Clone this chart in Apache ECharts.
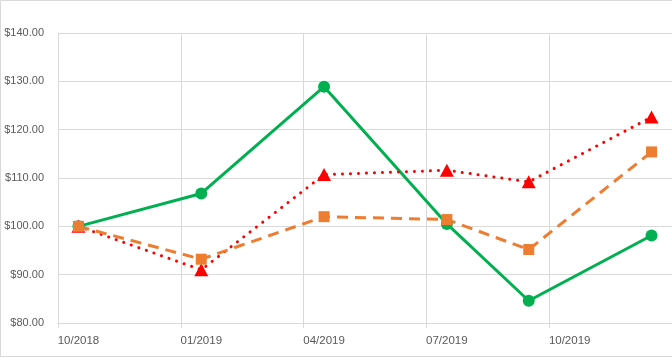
<!DOCTYPE html>
<html>
<head>
<meta charset="utf-8">
<script src="https://cdn.jsdelivr.net/npm/echarts@6/dist/echarts.min.js"></script>
<style>
html,body{margin:0;padding:0;background:#fff;}
#chart{width:672px;height:358px;}
</style>
</head>
<body>
<div id="chart"></div>
<script>
// Monthly categories on the x axis (Excel date axis, base unit = month)
const months = ["10/2018","11/2018","12/2018","01/2019","02/2019","03/2019","04/2019","05/2019","06/2019","07/2019","08/2019","09/2019","10/2019","11/2019","12/2019"];
// Observation dates
const obsDates = ["10/2018","01/2019","04/2019","07/2019","09/2019","12/2019"];
// Series values
const greenValues  = [100.0, 106.8, 128.9, 100.5, 84.6, 98.1];
const redValues    = [100.0, 91.0, 110.7, 111.6, 109.2, 122.6];
const orangeValues = [100.0, 93.2, 102.0, 101.4, 95.2, 115.4];
// Y axis range
const yMin = 80, yMax = 140, yStep = 10;

const pairs = vals => obsDates.map((d, i) => [d, vals[i]]);
const font = "Liberation Sans";
const gridColor = "#d9d9d9";

const chart = echarts.init(document.getElementById('chart'), null, {renderer: 'canvas'});
chart.setOption({
  animation: false,
  backgroundColor: '#fff',
  grid: {left: 58, right: 0, top: 33, bottom: 35, containLabel: false},
  xAxis: {
    type: 'category',
    data: months,
    boundaryGap: true,
    axisLine: {show: true, lineStyle: {color: gridColor, width: 1}},
    axisTick: {show: true, interval: 2, length: 5, lineStyle: {color: gridColor}},
    axisLabel: {interval: 2, color: '#595959', fontFamily: font, fontSize: 11.5, margin: 12},
    splitLine: {show: true, interval: 2, lineStyle: {color: gridColor, width: 1}}
  },
  yAxis: {
    type: 'value',
    min: yMin, max: yMax, interval: yStep,
    axisLine: {show: false},
    axisTick: {show: false},
    axisLabel: {color: '#595959', fontFamily: font, fontSize: 11, margin: 14,
      formatter: v => '$' + v.toFixed(2)},
    splitLine: {show: true, lineStyle: {color: gridColor, width: 1}}
  },
  graphic: [{
    type: 'rect', silent: true, z: 100,
    shape: {x: 0.5, y: 0.5, width: 700, height: 356},
    style: {fill: 'none', stroke: gridColor, lineWidth: 1}
  }],
  series: [
    {
      name: 'Green', type: 'line', data: pairs(greenValues),
      symbol: 'circle', symbolSize: 12,
      lineStyle: {color: '#00B050', width: 3, type: 'solid'},
      itemStyle: {color: '#00B050'}
    },
    {
      name: 'Red', type: 'line', data: pairs(redValues),
      symbol: 'triangle', symbolSize: [14, 13],
      lineStyle: {color: '#FF0000', width: 3, type: [0.1, 7.9], cap: 'round'},
      itemStyle: {color: '#FF0000'}
    },
    {
      name: 'Orange', type: 'line', data: pairs(orangeValues),
      symbol: 'rect', symbolSize: 11,
      lineStyle: {color: '#ED7D31', width: 3, type: [11, 7], cap: 'butt'},
      itemStyle: {color: '#ED7D31'}
    }
  ]
});
</script>
</body>
</html>
